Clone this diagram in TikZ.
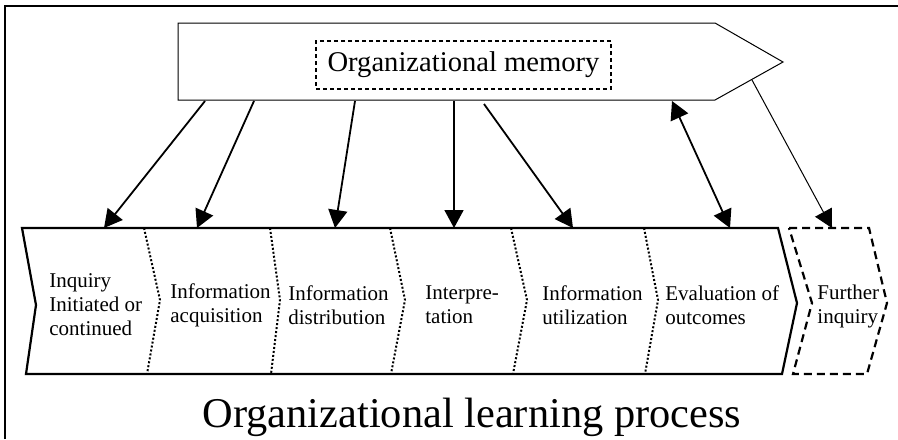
\documentclass[tikz,border=0pt]{standalone}
\usepackage{fontspec}
\setmainfont{Liberation Serif}
\usetikzlibrary{arrows.meta}

\begin{document}
\begin{tikzpicture}[x=0.5pt, y=-0.5pt,
  >={Triangle[length=9pt,width=9.5pt]},
  stage/.style={inner sep=0pt, anchor=west, align=left, font=\fontsize{10.5}{12}\selectfont},
  divider/.style={line width=1pt, dash pattern=on 1pt off 1pt},
  link/.style={line width=0.9pt, ->}]
\useasboundingbox (0,0) rectangle (898,439);
% frame
\draw [line width=0.6pt] (5,439) -- (5,6) -- (898,6);
% memory arrow
\draw [line width=0.5pt] (178,23) -- (715,23) -- (783,62) -- (715,100) -- (178,100) -- cycle;
\node at (463.5,65) (memory) [draw, dash pattern=on 2pt off 1.5pt, line width=0.6pt, minimum width=147.5pt, minimum height=24pt, inner sep=0pt, font=\fontsize{14.3}{16}\selectfont] {Organizational memory};
% process band and the next step
\draw [line width=1.1pt] (22,228) -- (778,228) -- (797,303) -- (782,374) -- (26,374) -- (36,305) -- cycle;
\draw [line width=1.1pt, dash pattern=on 4pt off 2.5pt] (789,228) -- (869,228) -- (887,303) -- (867,374) -- (793,374) -- (812,303) -- cycle;
% dividers between stages
\draw [divider] (144,228) -- (160,300) -- (147,374);
\draw [divider] (270,228) -- (280,300) -- (271,374);
\draw [divider] (390,228) -- (405,300) -- (391,374);
\draw [divider] (511,228) -- (527,300) -- (513,374);
\draw [divider] (644,228) -- (658,300) -- (645,374);
% stages
\node at (49,305)  (inquiry)    [stage] {Inquiry\\Initiated or\\continued};
\node at (170,305) (acquire)    [stage] {Information\\acquisition};
\node at (288,305) (distribute) [stage] {Information\\distribution};
\node at (425,305) (interpret)  [stage] {Interpre-\\tation};
\node at (542,305) (utilize)    [stage] {Information\\utilization};
\node at (665,305) (evaluate)   [stage] {Evaluation of\\outcomes};
\node at (817,306) (further)    [stage] {Further\\inquiry};
% arrow ends
\coordinate (m1) at (205,101); \coordinate (s1) at (104,228);
\coordinate (m2) at (254,101); \coordinate (s2) at (197,228);
\coordinate (m3) at (355,101); \coordinate (s3) at (335,228);
\coordinate (m4) at (454,101); \coordinate (s4) at (454,228);
\coordinate (m5) at (484,104); \coordinate (s5) at (573,228);
\coordinate (m6) at (672,101); \coordinate (s6) at (730,228);
\coordinate (m7) at (752,80);  \coordinate (s7) at (832,228);
\draw [link] (m1) -- (s1);
\draw [link] (m2) -- (s2);
\draw [link] (m3) -- (s3);
\draw [link] (m4) -- (s4);
\draw [link] (m5) -- (s5);
\draw [link, <->] (m6) -- (s6);
\draw [link, line width=0.5pt] (m7) -- (s7);
% title
\node at (472,427) (title) [anchor=base, inner sep=0pt, font=\fontsize{21.2}{24}\selectfont] {Organizational learning process};
\end{tikzpicture}
\end{document}
